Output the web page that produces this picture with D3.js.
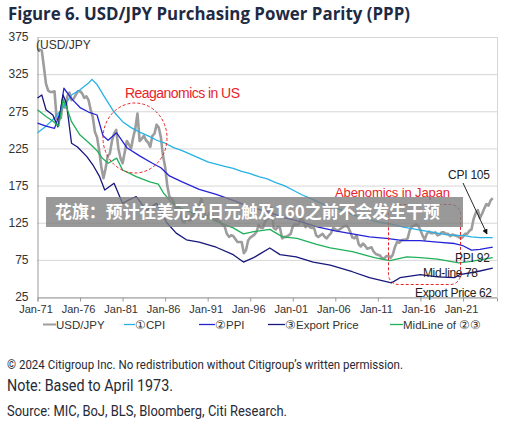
<!DOCTYPE html>
<html><head><meta charset="utf-8">
<script src="https://cdn.jsdelivr.net/npm/d3@7"></script>
<style>body{margin:0;background:#fff}svg{display:block}</style>
</head><body><svg id="c" width="512" height="424"></svg>
<script>
// ---------- data ----------
const yTicks = [25, 75, 125, 175, 225, 275, 325, 375];
const xTickYears = [1971, 1976, 1981, 1986, 1991, 1996, 2001, 2006, 2011, 2016, 2021];
const xTickLabels = ["Jan-71","Jan-76","Jan-81","Jan-86","Jan-91","Jan-96","Jan-01","Jan-06","Jan-11","Jan-16","Jan-21"];

// USD/JPY, quarterly from Q1 1971
const fxStart = 1971, fxStep = 0.25;
const fxValues = [
 358,358,357,335, 312,303,301,301, 302,265,265,266, 290,280,295,300,
 290,292,297,302, 302,299,293,295, 290,277,267,247, 240,222,200,185,
 198,215,218,235, 245,250,225,212, 205,220,235,230, 225,240,252,272,
 235,238,242,236, 233,227,242,245, 257,253,240,215, 200,175,160,158,
 153,142,148,140, 127,125,133,128, 128,138,142,143, 146,157,148,130,
 133,139,137,130, 128,131,125,122, 120,110,106,108, 107,103,99,99,
 99,84,88,101, 105,107,109,113, 122,118,118,127, 129,137,145,118,
 116,120,118,104, 106,106,108,110, 120,123,122,124, 133,127,119,122,
 119,118,118,108, 106,108,110,106, 104,108,111,118, 116,114,116,118,
 120,121,119,113, 105,104,108,96, 93,97,94,90, 91,92,86,83,
 82,81,77,77, 80,80,78,82, 92,99,98,101, 102,102,104,115,
 120,121,123,121, 115,108,102,110, 113,111,111,112, 108,109,112,112,
 110,110,107,109, 108,107,106,104, 106,110,110,114, 116,130,138,142,
 131,137,144,150, 148,155,158];

const cpiDates = [1971,1972,1973,1974,1975,1976,1977,1977.4,1978,1979,1980,1981,1982,1983,1984,1985,1986,1987,1988,1989,1990,1991,1992,1993,1994,1995,1996,1997,1998,1999,2000,2001,2002,2003,2004,2005,2006,2007,2008,2009,2010,2011,2012,2013,2014,2015,2016,2017,2018,2019,2020,2021,2022,2023,2024.5];
const cpiValues = [246,255,266,280,297,304,313,318,311,292,274,261,253,247,242,236,232,226,222,217,212,207,204,201,198,194,191,187,184,179,175,169,163,158,153,148,145,141,136,132,129,126,124,122,119,117,115,113,111,109,108,108,106,105,105];

const ppiDates = [1971,1972,1973,1973.7,1974.1,1975,1976,1977,1978,1978.7,1979.3,1980.3,1981.5,1983,1984.5,1985.5,1986.5,1988,1990,1992,1994,1996,1998,2000,2002,2004,2006,2008,2010,2012,2014,2016,2018,2020,2021,2022,2023,2024.5];
const ppiValues = [259,255,252,275,306,292,280,274,270,242,236,246,226,215,205,199,188,180,170,163,155,146,140,132,126,119,114,110,106,104,101,101,99,97,94,88,89,92];

const expDates = [1971,1971.5,1972,1972.8,1973.4,1974,1974.4,1975,1975.7,1976.8,1977.5,1978.3,1978.9,1980,1981,1981.8,1982.6,1983.8,1985,1986.2,1987.3,1988.5,1990,1992,1994,1995.2,1996.4,1997,1998.3,1999.5,2001.4,2003.4,2005.4,2008,2010,2012.6,2013.6,2016,2018,2020,2020.6,2022.6,2024.5];
const expValues = [293,297,277,270,254,297,286,232,227,214,203,187,169,178,151,156,160,142,151,125,111,102,99,92,82,72,78,82,91,82,79,72,68,59,51,44,51,55,52,51,55,59,64];

const midDates = [1971,1972,1972.8,1973.5,1974,1974.4,1975,1976,1977,1978,1978.6,1979.3,1980.3,1981,1982.6,1984.2,1985.2,1985.8,1986.7,1987.7,1990,1992,1994,1995.2,1996.4,1998.3,1999.8,2001.5,2003.8,2005.4,2008,2010.6,2012.4,2014.4,2016,2018,2020.5,2022,2024.5];
const midValues = [277,268,262,255,290,281,261,243,233,222,212,205,212,196,187,180,177,165,153,145,135,127,118,110,113,116,106,104,96,91,86,78,74,79,78,76,71,73,78];

const legendLabels = ["USD/JPY","\u2460CPI","\u2461PPI","\u2462Export Price","MidLine of \u2461\u2462"];

// ---------- drawing ----------
const svg = d3.select("#c");
const F = "'Liberation Sans', Arial, sans-serif";
const x = d3.scaleLinear().domain([1971, 2025]).range([37.5, 497]);
const y = d3.scaleLinear().domain([25, 375]).range([297, 37]);

// title
svg.append("text").attr("x", 8).attr("y", 20).attr("font-family", "'Open Sans', sans-serif")
  .attr("font-weight", 700).attr("font-size", 17).attr("fill", "#1f2a44")
  .attr("textLength", 402).attr("lengthAdjust", "spacingAndGlyphs")
  .text("Figure 6. USD/JPY Purchasing Power Parity (PPP)");

// grid
svg.append("g").selectAll("line").data(yTicks).join("line")
  .attr("x1", 37).attr("x2", 497).attr("y1", d => y(d) + 0.5).attr("y2", d => y(d) + 0.5)
  .attr("stroke", "#d6d6d6").attr("stroke-width", 1);
svg.append("line").attr("x1", 497.5).attr("x2", 497.5).attr("y1", 37).attr("y2", 297)
  .attr("stroke", "#d6d6d6");

// y axis
const ya = svg.append("g").attr("transform", "translate(37.5,0)")
  .call(d3.axisLeft(y).tickValues(yTicks).tickSize(0).tickPadding(9));
ya.select(".domain").attr("stroke", "#9a9a9a");
ya.selectAll("text").attr("font-family", F).attr("font-size", 12).attr("fill", "#333");

// x axis
const xa = svg.append("g").attr("transform", "translate(0,297.5)")
  .call(d3.axisBottom(x).tickValues(xTickYears).tickFormat((d, i) => xTickLabels[i]).tickSize(4).tickPadding(4));
xa.select(".domain").attr("stroke", "#9a9a9a");
xa.selectAll(".tick line").attr("stroke", "#9a9a9a");
xa.selectAll("text").attr("font-family", F).attr("font-size", 11).attr("fill", "#333")
  .attr("dx", -2);

// lines
const fxData = fxValues.map((v, i) => [fxStart + i * fxStep, v]);
const pair = (ds, vs) => ds.map((d, i) => [d, vs[i]]);
const line = d3.line().x(d => x(d[0])).y(d => y(d[1]));
const series = [
  {data: fxData, color: "#9d9d9d", w: 2.6},
  {data: pair(cpiDates, cpiValues), color: "#27b2e6", w: 1.3},
  {data: pair(ppiDates, ppiValues), color: "#2424d6", w: 1.3},
  {data: pair(expDates, expValues), color: "#17177c", w: 1.3},
  {data: pair(midDates, midValues), color: "#1fb05a", w: 1.3}
];
svg.append("g").selectAll("path").data(series).join("path")
  .attr("d", d => line(d.data)).attr("fill", "none")
  .attr("stroke", d => d.color).attr("stroke-width", d => d.w).attr("stroke-linejoin", "round");

// (USD/JPY label
svg.append("text").attr("x", 36).attr("y", 49).attr("font-family", F).attr("font-size", 12)
  .attr("fill", "#333").text("(USD/JPY");

// Reaganomics annotation
svg.append("ellipse").attr("cx", 135).attr("cy", 138).attr("rx", 32).attr("ry", 35)
  .attr("fill", "none").attr("stroke", "#e8242b").attr("stroke-width", 1).attr("stroke-dasharray", "3,2");
svg.append("text").attr("x", 125).attr("y", 98).attr("font-family", F).attr("font-size", 14)
  .attr("fill", "#e8242b").attr("textLength", 115).text("Reaganomics in US");

// Abenomics annotation
svg.append("rect").attr("x", 388.5).attr("y", 204.5).attr("width", 72).attr("height", 80).attr("rx", 10)
  .attr("fill", "none").attr("stroke", "#e8242b").attr("stroke-width", 1).attr("stroke-dasharray", "3,2");
svg.append("text").attr("x", 335).attr("y", 197).attr("font-family", F).attr("font-size", 13)
  .attr("fill", "#e8242b").attr("textLength", 115).text("Abenomics in Japan");

// end labels
const endLabels = [
  {t: "CPI 105", x: 448, y: 179, w: 42},
  {t: "PPI 92", x: 455, y: 262, w: 35},
  {t: "Mid-line 78", x: 423, y: 277, w: 55},
  {t: "Export Price 62", x: 415, y: 297, w: 77}
];
svg.append("g").selectAll("text").data(endLabels).join("text")
  .attr("x", d => d.x).attr("y", d => d.y).attr("font-family", F).attr("font-size", 12)
  .attr("fill", "#222").attr("textLength", d => d.w).text(d => d.t);
svg.append("defs").append("marker").attr("id", "ah").attr("viewBox", "0 0 10 10")
  .attr("refX", 9).attr("refY", 5).attr("markerWidth", 6).attr("markerHeight", 6).attr("orient", "auto")
  .append("path").attr("d", "M0,0L10,5L0,10z").attr("fill", "#111");
svg.append("line").attr("x1", 463).attr("y1", 183).attr("x2", 487).attr("y2", 234)
  .attr("stroke", "#111").attr("stroke-width", 0.9).attr("marker-end", "url(#ah)");

// banner overlay
svg.append("rect").attr("x", 46).attr("y", 197).attr("width", 417).attr("height", 30)
  .attr("fill", "rgba(128,128,128,0.8)");
svg.append("text").attr("x", 55).attr("y", 218).attr("font-family", "'Noto Sans CJK SC', sans-serif")
  .attr("font-weight", 700).attr("font-size", 17).attr("fill", "#fff")
  .attr("textLength", 385).attr("lengthAdjust", "spacingAndGlyphs")
  .text("花旗：预计在美元兑日元触及160之前不会发生干预");

// legend
const legendX = [[43, 56], [124, 135], [199, 215], [268, 285], [390, 403]];
const lg = svg.append("g");
legendLabels.forEach((t, i) => {
  const [lx, tx] = legendX[i];
  lg.append("line").attr("x1", lx).attr("x2", tx).attr("y1", 324.5).attr("y2", 324.5)
    .attr("stroke", series[i].color).attr("stroke-width", i === 0 ? 2 : 1.3);
  lg.append("text").attr("x", tx).attr("y", 329).attr("font-family", F).attr("font-size", 11.5)
    .attr("fill", "#333").text(t);
});

// footer
const foot = [
  {t: "\u00a9 2024 Citigroup Inc. No redistribution without Citigroup\u2019s written permission.", y: 369, s: 12.5, w: 396},
  {t: "Note: Based to April 1973.", y: 391, s: 17, w: 166},
  {t: "Source: MIC, BoJ, BLS, Bloomberg, Citi Research.", y: 416, s: 15, w: 280}
];
svg.append("g").selectAll("text").data(foot).join("text")
  .attr("x", 7).attr("y", d => d.y).attr("font-family", "Roboto, sans-serif")
  .attr("font-size", d => d.s).attr("fill", "#262a36")
  .attr("textLength", d => d.w).attr("lengthAdjust", "spacingAndGlyphs").text(d => d.t);
</script></body></html>
